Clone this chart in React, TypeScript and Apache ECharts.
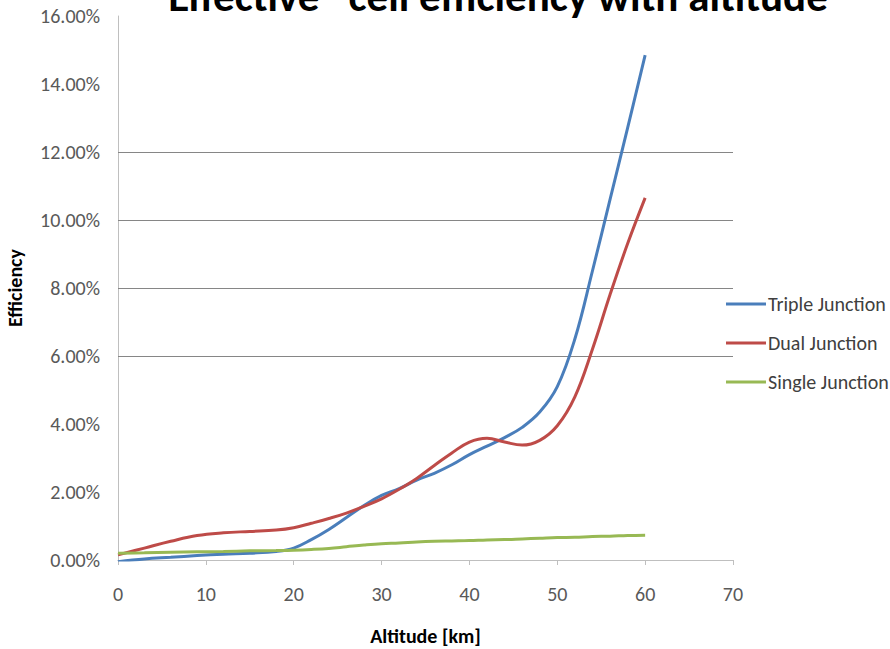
import React, { useEffect, useRef } from "react";
import * as echarts from "echarts";

const altitude = [0, 3, 6, 9, 12, 15, 18, 20, 22, 24, 26, 28, 30, 32, 34, 36, 38, 40, 42, 44, 46, 48, 50, 52, 54, 56, 58, 60];
const tripleJunction = [-0.05, 0.03, 0.08, 0.13, 0.17, 0.2, 0.25, 0.35, 0.6, 0.9, 1.25, 1.6, 1.9, 2.1, 2.35, 2.55, 2.8, 3.1, 3.35, 3.6, 3.9, 4.35, 5.1, 6.5, 8.5, 10.6, 12.7, 14.85];
const dualJunction = [0.15, 0.35, 0.55, 0.72, 0.8, 0.84, 0.88, 0.95, 1.08, 1.22, 1.38, 1.58, 1.8, 2.08, 2.4, 2.78, 3.15, 3.47, 3.58, 3.47, 3.38, 3.52, 3.95, 4.8, 6.2, 7.8, 9.3, 10.65];
const singleJunction = [0.2, 0.21, 0.23, 0.24, 0.25, 0.27, 0.28, 0.29, 0.31, 0.34, 0.39, 0.44, 0.48, 0.5, 0.53, 0.55, 0.56, 0.57, 0.59, 0.6, 0.62, 0.64, 0.66, 0.67, 0.69, 0.7, 0.72, 0.73];
const seriesNames = ["Triple Junction", "Dual Junction", "Single Junction"];
const shownGridLines = [6, 8, 10, 12];

export default function App() {
  const ref = useRef<HTMLDivElement>(null);
  useEffect(() => {
    document.body.style.margin = "0";
    const chart = echarts.init(ref.current!, null, { renderer: "svg" });
    const pairs = (ys: number[]) => altitude.map((x, i) => [x, ys[i]]);
    const font = "Calibri, Carlito, 'Open Sans', sans-serif";
    chart.setOption({
      animation: false,
      backgroundColor: "#ffffff",
      textStyle: { fontFamily: font },
      grid: { left: 118, right: 157, top: 16, bottom: 89, containLabel: false, outerBoundsMode: "none" },
      graphic: [
        {
          type: "text",
          x: 498,
          y: -4,
          style: {
            text: "Effective   cell efficiency with altitude",
            textAlign: "center",
            textVerticalAlign: "middle",
            fontSize: 43,
            fontWeight: "bold",
            fontFamily: font,
            fill: "#000",
          },
        },
      ],
      legend: {
        orient: "vertical",
        left: 726,
        top: 294,
        padding: 0,
        itemWidth: 40,
        itemHeight: 3,
        itemGap: 19,
        icon: "rect",
        data: seriesNames,
        textStyle: { fontSize: 20, color: "#404040", fontFamily: font, padding: [0, 0, 0, -3] },
      },
      xAxis: {
        type: "value",
        min: 0,
        max: 70,
        interval: 10,
        name: "Altitude [km]",
        nameLocation: "middle",
        nameGap: 66,
        nameTextStyle: { fontSize: 20, fontWeight: "bold", color: "#000" },
        axisLine: { lineStyle: { color: "#BFBFBF", width: 1 } },
        axisTick: { show: true, length: 5, lineStyle: { color: "#BFBFBF" } },
        axisLabel: { fontSize: 20, color: "#595959", margin: 24 },
        splitLine: { show: false },
      },
      yAxis: {
        type: "value",
        min: 0,
        max: 16,
        interval: 2,
        name: "Efficiency",
        nameLocation: "middle",
        nameGap: 93,
        nameRotate: 90,
        nameTextStyle: { fontSize: 20, fontWeight: "bold", color: "#000" },
        axisLine: { show: true, lineStyle: { color: "#BFBFBF", width: 1 } },
        axisTick: { show: false },
        axisLabel: { fontSize: 20, color: "#595959", margin: 18, formatter: (v: number) => v.toFixed(2) + "%" },
        splitLine: { show: false },
      },
      series: [
        {
          name: seriesNames[0],
          type: "line",
          smooth: 0.4,
          showSymbol: false,
          data: pairs(tripleJunction),
          lineStyle: { width: 3, color: "#4A7EBB" },
          itemStyle: { color: "#4A7EBB" },
          z: 3,
          markLine: {
            silent: true,
            symbol: "none",
            label: { show: false },
            lineStyle: { color: "#868686", width: 1, type: "solid" },
            data: shownGridLines.map((v) => ({ yAxis: v })),
            z: 1,
          },
        },
        {
          name: seriesNames[1],
          type: "line",
          smooth: 0.4,
          showSymbol: false,
          data: pairs(dualJunction),
          lineStyle: { width: 3, color: "#BE4B48" },
          itemStyle: { color: "#BE4B48" },
          z: 3,
        },
        {
          name: seriesNames[2],
          type: "line",
          smooth: 0.4,
          showSymbol: false,
          data: pairs(singleJunction),
          lineStyle: { width: 3, color: "#98B954" },
          itemStyle: { color: "#98B954" },
          z: 3,
        },
      ],
    });
    return () => chart.dispose();
  }, []);
  return <div ref={ref} style={{ position: "absolute", left: 0, top: 0, width: 890, height: 649 }} />;
}
